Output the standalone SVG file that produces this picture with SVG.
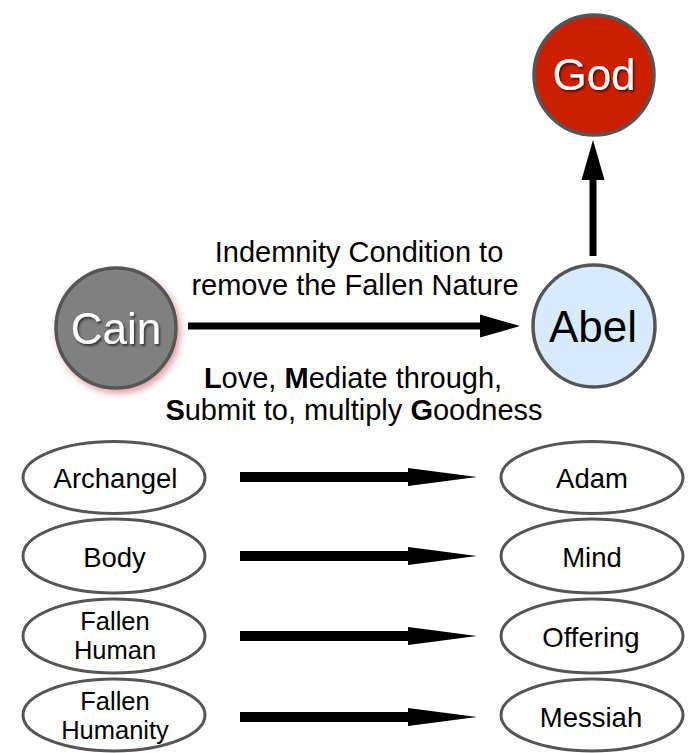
<svg xmlns="http://www.w3.org/2000/svg" width="688" height="753" viewBox="0 0 688 753">
<defs>
<style>
.circ{stroke:#555;stroke-width:3.5}
.ell{fill:#fff;stroke:#555;stroke-width:3}
.big{font-family:"Liberation Sans",Arial,sans-serif;font-size:44px;text-anchor:middle}
.lbl{font-family:"Liberation Sans",Arial,sans-serif;font-size:27.5px;text-anchor:middle;fill:#000}
.lbl2{font-family:"Liberation Sans",Arial,sans-serif;font-size:25.5px;text-anchor:middle;fill:#000}
.mid{font-family:"Liberation Sans",Arial,sans-serif;font-size:29px;text-anchor:middle;fill:#000}
.b{font-weight:bold}
</style>
<filter id="tsh" x="-20%" y="-20%" width="140%" height="140%">
<feDropShadow dx="1.5" dy="2" stdDeviation="1.2" flood-color="#000" flood-opacity="0.6"/>
</filter>
<filter id="glow" x="-30%" y="-30%" width="160%" height="160%">
<feDropShadow dx="3" dy="4" stdDeviation="3" flood-color="#c0304a" flood-opacity="0.45"/>
</filter>
</defs>
<g id="connectors">
<line x1="188" y1="326" x2="482" y2="326" stroke="#000" stroke-width="7"/>
<polygon points="480,314.5 520,326 480,337.5" fill="#000"/>
<line x1="593" y1="256" x2="593" y2="178" stroke="#000" stroke-width="7"/>
<polygon points="581.5,180 593,140 604.5,180" fill="#000"/>
<g fill="#000">
<rect x="240" y="472" width="172" height="10"/><polygon points="408,468 477,477 408,486"/>
<rect x="240" y="551" width="172" height="10"/><polygon points="408,547 477,556 408,565"/>
<rect x="240" y="631" width="172" height="10"/><polygon points="408,627 477,636 408,645"/>
<rect x="240" y="712" width="172" height="10"/><polygon points="408,708 477,717 408,726"/>
</g>
</g>
<g id="god">
<circle class="circ" cx="594" cy="75" r="60" fill="#cc1f00"/>
<text class="big" x="594" y="90" fill="#fff" filter="url(#tsh)">God</text>
</g>
<g id="cain">
<circle class="circ" cx="116" cy="328" r="60" fill="#808080" filter="url(#glow)"/>
<text class="big" x="116" y="344" fill="#fff" filter="url(#tsh)">Cain</text>
</g>
<g id="abel">
<circle class="circ" cx="594" cy="326" r="61" fill="#d6ebfd"/>
<text class="big" x="593" y="342" fill="#000">Abel</text>
</g>
<g id="label-top">
<text class="mid" x="359" y="262">Indemnity Condition to<tspan x="355" dy="33">remove the Fallen Nature</tspan></text>
</g>
<g id="label-bottom">
<text class="mid" x="353" y="388"><tspan class="b">L</tspan>ove, <tspan class="b">M</tspan>ediate through,<tspan x="354" dy="32"><tspan class="b">S</tspan>ubmit to, multiply <tspan class="b">G</tspan>oodness</tspan></text>
</g>
<g id="archangel"><ellipse class="ell" cx="114" cy="477.5" rx="91" ry="36"/><text class="lbl" x="115.5" y="488">Archangel</text></g>
<g id="adam"><ellipse class="ell" cx="592" cy="477.5" rx="91" ry="36"/><text class="lbl" x="592" y="488">Adam</text></g>
<g id="body"><ellipse class="ell" cx="114" cy="556" rx="91" ry="37"/><text class="lbl" x="114.5" y="567">Body</text></g>
<g id="mind"><ellipse class="ell" cx="592" cy="556" rx="91" ry="37"/><text class="lbl" x="592" y="567">Mind</text></g>
<g id="fallen-human"><ellipse class="ell" cx="114" cy="636" rx="91" ry="37"/><text class="lbl2" x="115" y="630">Fallen<tspan x="115" dy="28.6">Human</tspan></text></g>
<g id="offering"><ellipse class="ell" cx="592" cy="636" rx="91" ry="37"/><text class="lbl" x="591" y="647">Offering</text></g>
<g id="fallen-humanity"><ellipse class="ell" cx="114" cy="715" rx="91" ry="36"/><text class="lbl2" x="115" y="710">Fallen<tspan x="115" dy="28.6">Humanity</tspan></text></g>
<g id="messiah"><ellipse class="ell" cx="592" cy="715" rx="91" ry="36"/><text class="lbl" x="591" y="727">Messiah</text></g>
</svg>
